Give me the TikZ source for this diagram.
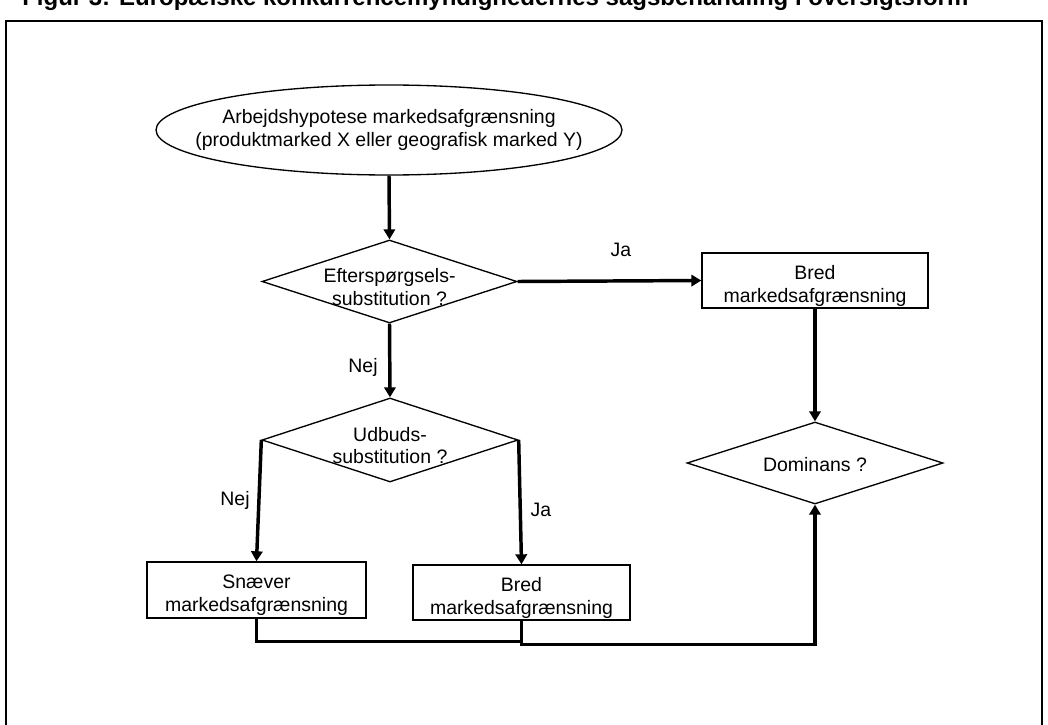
\documentclass[tikz,border=0pt]{standalone}
\usepackage{fontspec}
\setmainfont{Liberation Sans}
\usetikzlibrary{shapes.geometric,arrows.meta}
\tikzset{
  flowshape/.style={draw, line width=1pt, inner sep=0pt},
  boxnode/.style={flowshape, rectangle},
  decision/.style={flowshape, diamond},
  startnode/.style={flowshape, ellipse},
  inside/.style={inner sep=0pt, align=center,
    font=\fontsize{14.6}{16.9}\selectfont},
  conn/.style={line width=2.6pt, -{Triangle[length=7.5pt,width=8.5pt]}},
  joinline/.style={line width=2.6pt},
  answer/.style={inner sep=0pt, font=\fontsize{14.6}{16.9}\selectfont},
}
\begin{document}
\begin{tikzpicture}[x=0.75pt, y=-0.75pt]
  \useasboundingbox (0,0) rectangle (1048,724);
  \clip (0,0) rectangle (1048,724);

  % heading and frame
  \node[anchor=base west, inner sep=0pt] (title) at (22,5.5)
    {\resizebox{709.5pt}{!}{\bfseries Figur 3: Europæiske konkurrencemyndighedernes sagsbehandling i oversigtsform}};
  \draw[line width=1.5pt] (6,760) -- (6,21) -- (1042,21) -- (1042,760);

  % flow elements
  \node[startnode, minimum width=466*0.75pt, minimum height=90*0.75pt,
    label={[inside]center:Arbejdshypotese markedsafgrænsning\\(produktmarked X eller geografisk marked Y)}]
    (hyp) at (389,130) {};
  \node[decision, minimum width=255*0.75pt, minimum height=83*0.75pt,
    label={[inside, yshift=-4pt]center:Efterspørgsels-\\substitution ?}]
    (efter) at (389.5,281.5) {};
  \node[boxnode, minimum width=226*0.75pt, minimum height=55*0.75pt,
    label={[inside, yshift=-4pt]center:Bred\\markedsafgrænsning}]
    (bredA) at (815,280.5) {};
  \node[decision, minimum width=256*0.75pt, minimum height=84*0.75pt,
    label={[inside, yshift=-4pt]center:Udbuds-\\substitution ?}]
    (udbud) at (390,440) {};
  \node[decision, minimum width=256*0.75pt, minimum height=82*0.75pt,
    label={[inside, yshift=-1.5pt]center:Dominans ?}]
    (dom) at (815,463) {};
  \node[boxnode, minimum width=219*0.75pt, minimum height=56*0.75pt,
    label={[inside, yshift=-4pt]center:Snæver\\markedsafgrænsning}]
    (snaever) at (256.5,590) {};
  \node[boxnode, minimum width=217*0.75pt, minimum height=55*0.75pt,
    label={[inside, yshift=-4pt]center:Bred\\markedsafgrænsning}]
    (bredB) at (521.5,592.5) {};

  % answer labels
  \node[answer] (jaA) at (621,250) {Ja};
  \node[answer] (nejA) at (363,367) {Nej};
  \node[answer] (nejB) at (235,500) {Nej};
  \node[answer] (jaB) at (541,510) {Ja};

  % connectors
  \draw[conn] (hyp.south) -- (efter.north);
  \draw[conn] (efter.east) -- (bredA.west);
  \draw[conn] (efter.south) -- (udbud.north);
  \draw[conn] (udbud.west) -- (snaever.north);
  \draw[conn] (udbud.east) -- (bredB.north);
  \draw[conn] (bredA.south) -- (dom.north);
  \draw[joinline] (snaever.south) -- ++(0,23) -| (bredB.south |- 0,641);
  \draw[conn] (bredB.south) -- ++(0,24) -| (dom.south);
\end{tikzpicture}
\end{document}
